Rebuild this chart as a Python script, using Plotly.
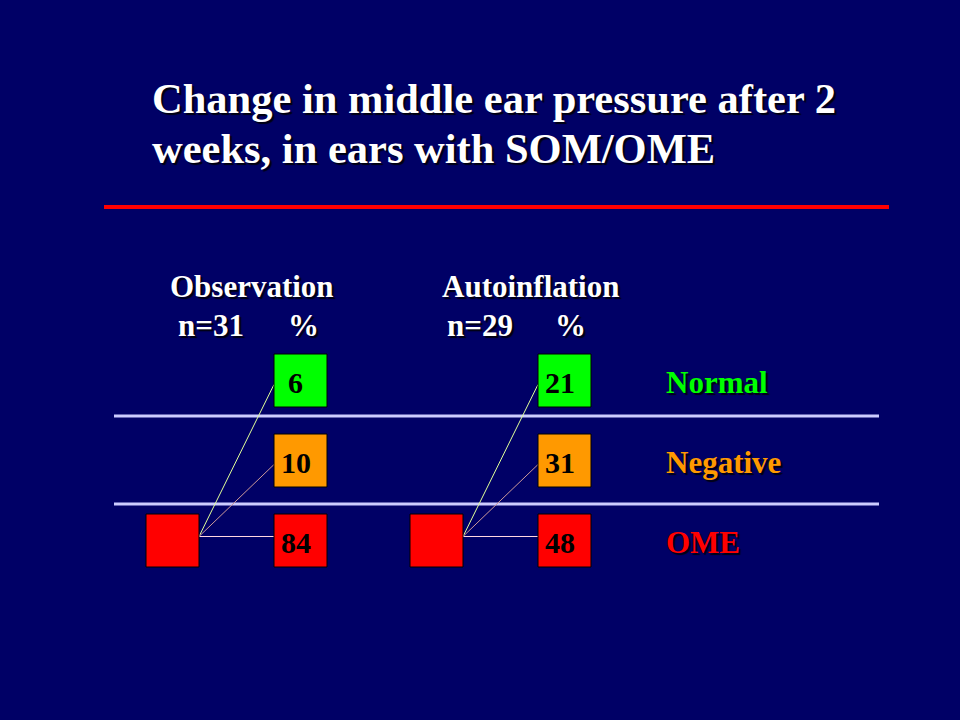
import plotly.graph_objects as go

# ---- data ----
title_lines = ["Change in middle ear pressure after 2", "weeks, in ears with SOM/OME"]
categories = ["Normal", "Negative", "OME"]
groups = ["Observation", "Autoinflation"]
group_n = [31, 29]
observation_pct = [6, 10, 84]
autoinflation_pct = [21, 31, 48]
group_values = [observation_pct, autoinflation_pct]

# ---- layout / style ----
BG = "#000066"
FONT = "Liberation Serif"
cat_colors = ["#00ff00", "#ff9900", "#ff0000"]
link_colors = ["#e0ff99", "#cc9999", "#ffd6e0"]
row_center = [380.5, 460.5, 540.5]
box = 53
src_left = [146, 410]
tgt_offset = 128
label_x = 664
SHADOW = "2px 2px 1px #000011"

fig = go.Figure()
shapes = []
annotations = []


def text(x, y, s, size, color, xanchor="left", shade=True):
    annotations.append(dict(x=x, y=y, text=s, xref="x", yref="y", showarrow=False,
                            xanchor=xanchor, yanchor="middle",
                            font=dict(family=FONT, size=size, color=color, weight="bold",
                                      shadow=SHADOW if shade else "none")))


# title
text(150, 98.5, title_lines[0], 42.5, "white")
text(150, 148.5, title_lines[1], 42.5, "white")
# red rule
shapes.append(dict(type="line", x0=104, x1=889, y0=207, y1=207, xref="x", yref="y",
                   line=dict(color="#ff0000", width=4)))

# separators between category rows
for yv in [416, 504]:
    shapes.append(dict(type="line", x0=114, x1=879, y0=yv, y1=yv, xref="x", yref="y",
                       line=dict(color="#ccccff", width=3)))

header_x = [168, 440]
n_x = [176, 445]
pct_x = [286, 553]
for g in range(len(groups)):
    text(header_x[g], 286.5, groups[g], 31, "white")
    text(n_x[g], 325.5, f"n={group_n[g]}", 31, "white")
    text(pct_x[g], 325.5, "%", 31, "white")

    sx = src_left[g]
    cy_src = row_center[2]
    tx = sx + tgt_offset
    # connector lines from the baseline (OME) box to each outcome box
    for i in range(len(categories)):
        shapes.append(dict(type="line", x0=sx + box, y0=cy_src - 4,
                           x1=tx, y1=row_center[i] + (4 if i < 2 else -4), xref="x", yref="y",
                           line=dict(color=link_colors[i], width=1)))
    # source box
    shapes.append(dict(type="rect", x0=sx, x1=sx + box, y0=cy_src - box / 2, y1=cy_src + box / 2,
                       xref="x", yref="y", fillcolor="#ff0000", line=dict(color="#000000", width=1)))
    # outcome boxes
    for i in range(len(categories)):
        shapes.append(dict(type="rect", x0=tx, x1=tx + box,
                           y0=row_center[i] - box / 2, y1=row_center[i] + box / 2,
                           xref="x", yref="y", fillcolor=cat_colors[i],
                           line=dict(color="#000000", width=1)))
        text(tx + 21.5, row_center[i] + 2, str(group_values[g][i]), 30, "black",
             xanchor="center", shade=False)

# category labels
for i, c in enumerate(categories):
    text(label_x, row_center[i] + 2, c, 31, cat_colors[i])

fig.update_layout(
    width=960, height=720,
    margin=dict(l=0, r=0, t=0, b=0),
    paper_bgcolor=BG, plot_bgcolor=BG,
    xaxis=dict(range=[0, 960], visible=False, fixedrange=True),
    yaxis=dict(range=[720, 0], visible=False, fixedrange=True),
    shapes=shapes, annotations=annotations,
    showlegend=False,
)
fig.write_html("out.html", config={"displayModeBar": False})
